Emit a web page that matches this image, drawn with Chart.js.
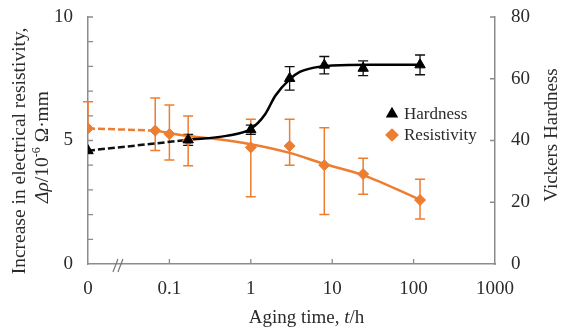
<!DOCTYPE html>
<html><head><meta charset="utf-8">
<script src="https://cdn.jsdelivr.net/npm/chart.js@4.4.1/dist/chart.umd.min.js"></script>
<style>html,body{margin:0;padding:0;background:#fff}#wrap{width:561px;height:329px}</style>
</head><body><div id="wrap"><canvas id="c" width="561" height="329"></canvas></div>
<script>
// ---- data ----
const xTickValues = [0.01, 0.1, 1, 10, 100, 1000];
const xTickLabels = ['0', '0.1', '1', '10', '100', '1000'];
const zeroTimeAt = 0.01; // where t = 0 is drawn on the broken log axis

const hardTimes = [0, 0.17, 1, 3, 8, 24, 120];
const hardness  = [36.7, 40.2, 43.5, 60.1, 64.4, 63.4, 64.5];
const hardErr   = [0, 1.8, 1.5, 3.8, 2.8, 2.4, 3.2];

const resTimes    = [0, 0.067, 0.1, 0.17, 1, 3, 8, 24, 120];
const resistivity = [5.49, 5.40, 5.26, 5.0, 4.72, 4.78, 4.0, 3.64, 2.59];
const resHigh     = [6.57, 6.72, 6.44, 5.99, 5.86, 5.86, 5.52, 4.28, 3.43];
const resLow      = [5.49, 4.60, 4.21, 3.98, 2.72, 4.00, 2.00, 2.82, 1.82];

const hardFitTimes = [0.17, 0.5, 1, 1.5, 2, 3, 4, 6, 10, 30, 120];
const hardFit      = [40.2, 41.5, 43.8, 48.5, 54.5, 59.8, 62.2, 63.6, 64.3, 64.5, 64.5];
const hardDashTimes = [0, 0.17];
const hardDash      = [36.7, 40.2];

const resFitTimes = [0.067, 0.17, 0.4, 1, 3, 8, 24, 120];
const resFit      = [5.40, 5.18, 5.05, 4.85, 4.50, 4.05, 3.60, 2.60];
const resDashTimes = [0, 0.067];
const resDash      = [5.49, 5.40];

const ORANGE = '#ED7D31';
const AXIS = '#8c8c8c';
const TEXT = '#2b2b2b';
const SERIF = '"Liberation Serif", "Times New Roman", serif';

const tx = t => (t === 0 ? zeroTimeAt : t);
const pts = (ts, vs) => ts.map((t, i) => ({ x: tx(t), y: vs[i] }));

const ctxEl = document.getElementById('c');

const decoPlugin = {
  id: 'deco',
  beforeDatasetsDraw(chart) {
    const ctx = chart.ctx;
    const x = chart.scales.x, y = chart.scales.y, y2 = chart.scales.y2;
    ctx.save();
    // resistivity error bars
    ctx.strokeStyle = ORANGE; ctx.lineWidth = 1.5;
    resTimes.forEach((t, i) => {
      const px = x.getPixelForValue(tx(t));
      const a = y.getPixelForValue(resHigh[i]), b = y.getPixelForValue(resLow[i]);
      ctx.beginPath();
      ctx.moveTo(px, a); ctx.lineTo(px, b);
      ctx.moveTo(px - 5, a); ctx.lineTo(px + 5, a);
      if (resLow[i] < resistivity[i]) { ctx.moveTo(px - 5, b); ctx.lineTo(px + 5, b); }
      ctx.stroke();
    });
    // hardness error bars
    ctx.strokeStyle = '#111'; ctx.lineWidth = 1.3;
    hardTimes.forEach((t, i) => {
      if (!hardErr[i]) return;
      const px = x.getPixelForValue(tx(t));
      const a = y2.getPixelForValue(hardness[i] + hardErr[i]), b = y2.getPixelForValue(hardness[i] - hardErr[i]);
      ctx.beginPath();
      ctx.moveTo(px, a); ctx.lineTo(px, b);
      ctx.moveTo(px - 5, a); ctx.lineTo(px + 5, a);
      ctx.moveTo(px - 5, b); ctx.lineTo(px + 5, b);
      ctx.stroke();
    });
    ctx.restore();
  },
  afterDraw(chart) {
    const ctx = chart.ctx;
    const ca = chart.chartArea;
    const x = chart.scales.x, y = chart.scales.y, y2 = chart.scales.y2;
    ctx.save();
    // inward tick marks
    ctx.strokeStyle = AXIS; ctx.lineWidth = 1.3;
    ctx.beginPath();
    x.ticks.forEach(tk => {
      const px = x.getPixelForValue(tk.value);
      if (px <= ca.left + 1 || px >= ca.right - 1) return;
      ctx.moveTo(px, ca.bottom); ctx.lineTo(px, ca.bottom - 5);
    });
    y.ticks.forEach(tk => {
      const py = y.getPixelForValue(tk.value);
      if (py >= ca.bottom - 1) return;
      ctx.moveTo(ca.left, py); ctx.lineTo(ca.left + 5, py);
    });
    y2.ticks.forEach(tk => {
      const py = y2.getPixelForValue(tk.value);
      if (py >= ca.bottom - 1) return;
      ctx.moveTo(ca.right, py); ctx.lineTo(ca.right - 5, py);
    });
    ctx.stroke();
    // axis break mark
    const bx = x.getPixelForValue(0.024);
    ctx.strokeStyle = '#777'; ctx.lineWidth = 1.2;
    ctx.beginPath();
    ctx.moveTo(bx - 6, ca.bottom + 8); ctx.lineTo(bx - 1, ca.bottom - 5);
    ctx.moveTo(bx - 1, ca.bottom + 8); ctx.lineTo(bx + 4, ca.bottom - 5);
    ctx.stroke();

    ctx.fillStyle = TEXT;
    ctx.textBaseline = 'middle';
    // x axis title
    const xt = [['Aging time, ', 'normal'], ['t', 'italic'], ['/h', 'normal']];
    drawRuns(ctx, xt, (ca.left + ca.right) / 2 + 15, 318, 19);
    // left title
    ctx.save();
    ctx.translate(20, 151); ctx.rotate(-Math.PI / 2);
    drawRuns(ctx, [['Increase in electrical resistivity,', 'normal']], 0, 0, 19.5);
    ctx.restore();
    ctx.save();
    ctx.translate(43, 147); ctx.rotate(-Math.PI / 2);
    drawRuns(ctx, [['Δρ', 'italic'], ['/10', 'normal'], ['-6', 'sup'], [' Ω·mm', 'normal']], 0, 0, 19.5);
    ctx.restore();
    // right title
    ctx.save();
    ctx.translate(552, 135); ctx.rotate(-Math.PI / 2);
    drawRuns(ctx, [['Vickers Hardness', 'normal']], 0, 0, 19);
    ctx.restore();

    // legend
    const legendItems = [
      { label: chart.data.datasets[0].label, style: 'triangle', color: '#000' },
      { label: chart.data.datasets[1].label, style: 'rectRot', color: ORANGE }
    ];
    legendItems.forEach((it, i) => {
      const ly = 114 + i * 21;
      ctx.fillStyle = it.color; ctx.strokeStyle = it.color;
      Chart.helpers.drawPoint(ctx, { pointStyle: it.style, radius: 6, borderWidth: 1 }, 392, ly);
      ctx.fill();
      ctx.fillStyle = TEXT;
      ctx.font = '17px ' + SERIF;
      ctx.textAlign = 'left';
      ctx.fillText(it.label, 404, ly + 1);
    });
    ctx.restore();
  }
};

function drawRuns(ctx, runs, cx, cy, size) {
  const fontOf = st => (st === 'italic' ? 'italic ' + size + 'px ' : st === 'sup' ? Math.round(size * 0.62) + 'px ' : size + 'px ') + SERIF;
  let total = 0;
  runs.forEach(r => { ctx.font = fontOf(r[1]); total += ctx.measureText(r[0]).width; });
  let cur = cx - total / 2;
  ctx.textAlign = 'left';
  runs.forEach(r => {
    ctx.font = fontOf(r[1]);
    ctx.fillText(r[0], cur, r[1] === 'sup' ? cy - size * 0.33 : cy);
    cur += ctx.measureText(r[0]).width;
  });
}

const tickFont = { family: SERIF, size: 19 };
const noPad = s => { s.paddingTop = 0; s.paddingBottom = 0; s.paddingLeft = 0; s.paddingRight = 0; };

new Chart(ctxEl, {
  type: 'scatter',
  data: {
    datasets: [
      { label: 'Hardness', yAxisID: 'y2', data: pts(hardTimes, hardness), pointStyle: 'triangle', pointRadius: 6, pointBackgroundColor: '#000', pointBorderColor: '#000', showLine: false },
      { label: 'Resistivity', yAxisID: 'y', data: pts(resTimes, resistivity), pointStyle: 'rectRot', pointRadius: 5.5, pointBackgroundColor: ORANGE, pointBorderColor: ORANGE, showLine: false },
      { label: 'hardFit', yAxisID: 'y2', data: pts(hardFitTimes, hardFit), showLine: true, pointRadius: 0, borderColor: '#000', borderWidth: 2.5, cubicInterpolationMode: 'monotone' },
      { label: 'hardDash', yAxisID: 'y2', data: pts(hardDashTimes, hardDash), showLine: true, pointRadius: 0, borderColor: '#111', borderWidth: 2.5, borderDash: [7, 3] },
      { label: 'resFit', yAxisID: 'y', data: pts(resFitTimes, resFit), showLine: true, pointRadius: 0, borderColor: ORANGE, borderWidth: 2.5, cubicInterpolationMode: 'monotone' },
      { label: 'resDash', yAxisID: 'y', data: pts(resDashTimes, resDash), showLine: true, pointRadius: 0, borderColor: ORANGE, borderWidth: 2.5, borderDash: [7, 3] }
    ]
  },
  options: {
    responsive: false,
    animation: false,
    devicePixelRatio: 1,
    layout: { padding: { top: 17, left: 0, right: 0, bottom: 0 } },
    plugins: { legend: { display: false }, tooltip: { enabled: false } },
    scales: {
      x: {
        type: 'logarithmic', position: 'bottom', min: 0.01, max: 1000,
        afterBuildTicks: s => { s.ticks = xTickValues.map(v => ({ value: v })); },
        afterFit: s => { s.height = 65; noPad(s); },
        ticks: { callback: (v, i) => xTickLabels[i], font: tickFont, color: TEXT, padding: 14, maxRotation: 0, autoSkip: false },
        grid: { drawOnChartArea: false, drawTicks: false, display: true, color: 'rgba(0,0,0,0)' },
        border: { display: true, color: AXIS, width: 1.5 }
      },
      y: {
        position: 'left', min: 0, max: 10,
        afterFit: s => { s.width = 88; noPad(s); },
        ticks: { stepSize: 1, callback: v => (v % 5 === 0 ? String(v) : ''), font: tickFont, color: TEXT, padding: 15, autoSkip: false },
        grid: { drawOnChartArea: false, drawTicks: false, color: 'rgba(0,0,0,0)' },
        border: { display: true, color: AXIS, width: 1.5 }
      },
      y2: {
        position: 'right', min: 0, max: 80,
        afterFit: s => { s.width = 66; noPad(s); },
        ticks: { stepSize: 20, font: tickFont, color: TEXT, padding: 16 },
        grid: { drawOnChartArea: false, drawTicks: false, color: 'rgba(0,0,0,0)' },
        border: { display: true, color: AXIS, width: 1.5 }
      }
    }
  },
  plugins: [decoPlugin]
});
</script>
</body></html>
